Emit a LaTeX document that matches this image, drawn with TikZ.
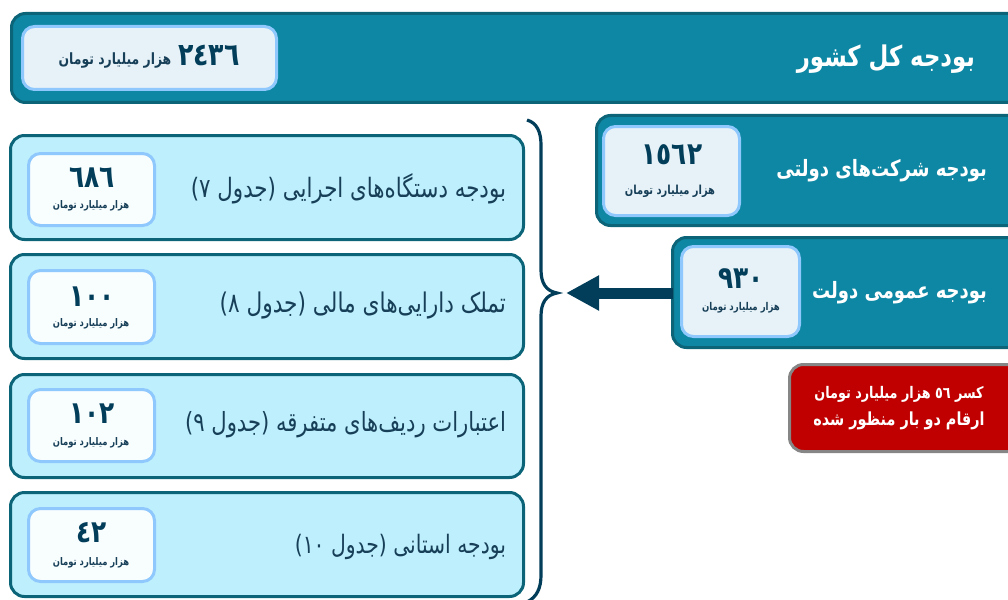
\documentclass[tikz,border=0pt]{standalone}
\usepackage{fontspec}
\TeXXeTstate=1
\newfontfamily\fa[Script=Arabic,FakeStretch=0.8]{DejaVu Sans}
\definecolor{tealfill}{HTML}{0D87A3}
\definecolor{tealedge}{HTML}{0B6478}
\definecolor{skyfill}{HTML}{BDEFFC}
\definecolor{paleedge}{HTML}{8FC8FC}
\definecolor{palefill}{HTML}{E7F2F8}
\definecolor{whitefill}{HTML}{F8FDFE}
\definecolor{navy}{HTML}{023E5A}
\definecolor{inktext}{HTML}{173F58}
\definecolor{redfill}{HTML}{C00000}
\usetikzlibrary{arrows.meta}
\tikzset{
  x=1pt,y=-1pt,
  panel/.style={rectangle,rounded corners=14pt,line width=3pt,inner sep=0pt,outer sep=0pt},
  tealbox/.style={panel,draw=tealedge,fill=tealfill},
  skybox/.style={panel,draw=tealedge,fill=skyfill},
  redbox/.style={panel,draw=gray!95,fill=redfill},
  paleval/.style={panel,rounded corners=12pt,draw=paleedge,fill=palefill},
  whiteval/.style={panel,rounded corners=12pt,draw=paleedge,fill=whitefill},
  txt/.style={inner sep=0pt,outer sep=0pt},
  num/.style={txt,text=navy,font=\fa\bfseries\fontsize{31}{31}\selectfont},
  unit/.style={txt,text=inktext,font=\fa\bfseries\fontsize{10.5}{11}\selectfont},
  whitehead/.style={txt,text=white,font=\fa\bfseries\fontsize{22.5}{24}\selectfont,anchor=east},
  rowlabel/.style={txt,text=inktext,font=\fa\fontsize{#1}{28}\selectfont,anchor=east},
}
\newcommand{\boxat}[7]{%
  \node[#1,minimum width=#5-#3-3pt,minimum height=#6-#4-3pt] (#2) at ({(#3+#5)/2},{(#4+#6)/2}) {#7};}
\begin{document}
\begin{tikzpicture}
\useasboundingbox (0,0) rectangle (1008,599);
\clip (0,0) rectangle (1008,599);
% top bar
\boxat{tealbox}{total}{10}{12}{1040}{104}{}
\boxat{paleval}{totalv}{21}{25}{278}{91}{}
\node[whitehead,font=\fa\bfseries\fontsize{28.5}{30}\selectfont] (totalt) at (975,59) {\beginR بودجه کل کشور\endR};
\node[num,font=\fa\bfseries\fontsize{31.5}{32}\selectfont] (totaln) at (209,55) {٢٤٣٦};
\node[unit,font=\fa\bfseries\fontsize{15.5}{16}\selectfont] (totalu) at (115,61) {\beginR هزار میلیارد تومان\endR};
% companies
\boxat{tealbox}{comp}{595}{114}{1040}{227}{}
\boxat{paleval}{compv}{602}{125}{741}{217}{}
\node[whitehead] (compt) at (987,171) {\beginR بودجه شرکت‌های دولتی\endR};
\node[num] (compn) at (672,155) {١٥٦٢};
\node[unit,font=\fa\bfseries\fontsize{12.4}{13}\selectfont] (compu) at (670,191) {\beginR هزار میلیارد تومان\endR};
% government
\boxat{tealbox}{gov}{671}{236}{1040}{349}{}
\boxat{paleval}{govv}{680}{245}{801}{338}{}
\node[whitehead] (govt) at (987,293) {\beginR بودجه عمومی دولت\endR};
\node[num] (govn) at (741,279) {٩٣٠};
\node[unit,font=\fa\bfseries\fontsize{10.7}{11}\selectfont] (govu) at (741,308) {\beginR هزار میلیارد تومان\endR};
% arrow
\coordinate (bracetip) at (566,293);
\draw[navy,line width=11pt,-{Triangle[length=33pt,width=33pt]}] (gov.west|-bracetip) -- (bracetip);
% red note
\boxat{redbox}{note}{788}{363}{1040}{453}{}
\node[txt,text=white,font=\fa\bfseries\fontsize{16}{18}\selectfont] (note1) at (899,394) {\beginR کسر \beginL٥٦\endL{} هزار میلیارد تومان\endR};
\node[txt,text=white,font=\fa\bfseries\fontsize{18}{20}\selectfont] (note2) at (899,421) {\beginR ارقام دو بار منظور شده\endR};
% rows
\boxat{skybox}{rowa}{9}{134}{525}{241}{}
\boxat{whiteval}{rowav}{27}{152}{156}{227}{}
\node[rowlabel=26.7] (rowat) at (506,189) {\beginR بودجه دستگاه‌های اجرایی (جدول ٧)\endR};
\node[num] (rowan) at (92,178) {٦٨٦};
\node[unit] (rowau) at (91,206) {\beginR هزار میلیارد تومان\endR};
\boxat{skybox}{rowb}{9}{253}{525}{360}{}
\boxat{whiteval}{rowbv}{27}{269}{156}{345}{}
\node[rowlabel=27.1] (rowbt) at (506,306) {\beginR تملک دارایی‌های مالی (جدول ٨)\endR};
\node[num] (rowbn) at (92,297) {١٠٠};
\node[unit] (rowbu) at (91,324) {\beginR هزار میلیارد تومان\endR};
\boxat{skybox}{rowc}{9}{373}{525}{479}{}
\boxat{whiteval}{rowcv}{27}{388}{156}{463}{}
\node[rowlabel=26.4] (rowct) at (506,425) {\beginR اعتبارات ردیف‌های متفرقه (جدول ٩)\endR};
\node[num] (rowcn) at (92,414) {١٠٢};
\node[unit] (rowcu) at (91,443) {\beginR هزار میلیارد تومان\endR};
\boxat{skybox}{rowd}{9}{491}{525}{598}{}
\boxat{whiteval}{rowdv}{27}{507}{156}{583}{}
\node[rowlabel=25.4] (rowdt) at (506,547) {\beginR بودجه استانی (جدول \beginL١٠\endL)\endR};
\node[num] (rowdn) at (92,533) {٤٢};
\node[unit] (rowdu) at (91,563) {\beginR هزار میلیارد تومان\endR};
% brace
\draw[navy,line width=3.2pt] (527,120) .. controls (537,123) and (541,132) .. (541,145)
  -- (541,270) .. controls (541,283) and (546,291) .. (557,293)
  .. controls (546,295) and (541,303) .. (541,316)
  -- (541,575) .. controls (541,588) and (537,597) .. (527,602);
\end{tikzpicture}
\end{document}
